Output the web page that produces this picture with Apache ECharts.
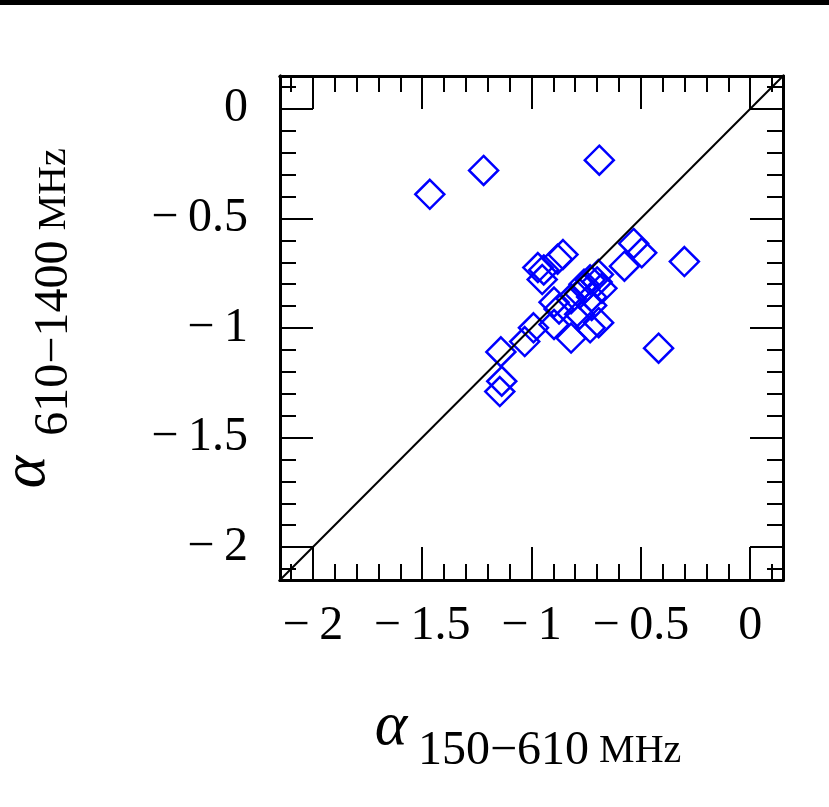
<!DOCTYPE html>
<html>
<head>
<meta charset="utf-8">
<script src="https://cdn.jsdelivr.net/npm/echarts@6/dist/echarts.min.js"></script>
<style>
  html, body { margin: 0; padding: 0; background: #fff; }
  #chart { width: 829px; height: 807px; }
</style>
</head>
<body>
<div id="chart"></div>
<script>
// spectral index 150-610 MHz (x) vs 610-1400 MHz (y)
const alphaLow = [
  -1.465, -1.219, -0.690, -0.301, -0.419,
  -0.533, -0.496, -0.575,
  -0.856, -0.881, -0.971, -0.944, -0.951,
  -0.694, -0.732, -0.678, -0.756, -0.780, -0.725, -0.819,
  -0.897, -0.874, -0.780, -0.725, -0.693, -0.732, -0.897,
  -0.819, -0.991, -1.031, -1.140, -1.136, -1.145, -0.700, -0.760
];
const alphaHigh = [
  -0.390, -0.281, -0.234, -0.697, -1.092,
  -0.614, -0.657, -0.718,
  -0.665, -0.686, -0.724, -0.735, -0.779,
  -0.756, -0.780, -0.819, -0.819, -0.843, -0.858, -0.866,
  -0.882, -0.913, -0.937, -0.897, -0.976, -0.999, -0.984,
  -1.046, -0.999, -1.062, -1.109, -1.243, -1.290, -0.790, -0.800
];
const axisRange = [-2.15, 0.15];
const majorTicks = [-2, -1.5, -1, -0.5, 0];
const minorTicks = [-2.1, -1.9, -1.8, -1.7, -1.6, -1.4, -1.3, -1.2, -1.1,
  -0.9, -0.8, -0.7, -0.6, -0.4, -0.3, -0.2, -0.1, 0.1];

const points = alphaLow.map((x, i) => [x, alphaHigh[i]]);
const fmt = v => v === 0 ? "0" : "\u2212\u2009" + Math.abs(v);
const labelFont = {
  fontFamily: "Liberation Serif",
  fontSize: 48,
  color: "#000"
};

function axis(pos, gridIndex, ticks, len, labels) {
  return {
    type: "value",
    gridIndex: gridIndex,
    position: pos,
    min: axisRange[0],
    max: axisRange[1],
    axisLine: { show: true, onZero: false, lineStyle: { color: "#000", width: 3 } },
    axisTick: {
      show: true,
      inside: true,
      length: len,
      customValues: ticks,
      lineStyle: { color: "#000", width: 2 }
    },
    axisLabel: Object.assign({
      show: labels,
      customValues: majorTicks,
      formatter: fmt,
      margin: pos === "left" ? 32 : 22,
      padding: pos === "left" ? [10, 0, 0, 0] : 0
    }, labelFont),
    splitLine: { show: false }
  };
}

const chart = echarts.init(document.getElementById("chart"));
const gridBox = { left: 280, top: 76, width: 503, height: 504 };
const subRich = {
  d: { fontFamily: "Liberation Serif", fontSize: 48, color: "#000" },
  m: { fontFamily: "Liberation Serif", fontSize: 40, color: "#000" }
};

const option = {
  backgroundColor: "#fff",
  animation: false,
  grid: [Object.assign({}, gridBox), Object.assign({}, gridBox)],
  xAxis: [
    axis("bottom", 0, majorTicks, 33, true),
    axis("top", 0, majorTicks, 33, false),
    axis("bottom", 1, minorTicks, 16, false),
    axis("top", 1, minorTicks, 16, false)
  ],
  yAxis: [
    axis("left", 0, majorTicks, 33, true),
    axis("right", 0, majorTicks, 33, false),
    axis("left", 1, minorTicks, 16, false),
    axis("right", 1, minorTicks, 16, false)
  ],
  series: [{
    type: "line",
    xAxisIndex: 0,
    yAxisIndex: 0,
    data: [[axisRange[0], axisRange[0]], [axisRange[1], axisRange[1]]],
    symbol: "none",
    lineStyle: { color: "#000", width: 2 },
    silent: true
  }, {
    type: "scatter",
    xAxisIndex: 0,
    yAxisIndex: 0,
    symbol: "diamond",
    symbolSize: 29,
    itemStyle: {
      color: "rgba(0,0,0,0)",
      borderColor: "#0000ff",
      borderWidth: 2.5,
      opacity: 1
    },
    data: points
  }],
  graphic: [
    { type: "rect", shape: { x: 0, y: 0, width: 829, height: 5 }, style: { fill: "#000" } },
    {
      type: "text", x: 391, y: 728,
      style: { text: "α", font: 'italic 62px "Liberation Serif"', fill: "#000", align: "center", verticalAlign: "middle" }
    },
    {
      type: "text", x: 418, y: 751,
      style: {
        text: "{d|150\u2212610}{m|\u00a0MHz}",
        align: "left", verticalAlign: "middle",
        rich: subRich
      }
    },
    {
      type: "text", x: 28, y: 472, rotation: Math.PI / 2,
      style: { text: "α", font: 'italic 62px "Liberation Serif"', fill: "#000", align: "center", verticalAlign: "middle" }
    },
    {
      type: "text", x: 54, y: 292, rotation: Math.PI / 2,
      style: {
        text: "{d|610\u22121400}{m|\u00a0MHz}",
        align: "center", verticalAlign: "middle",
        rich: subRich
      }
    }
  ]
};
// draw
chart.setOption(option);
</script>
</body>
</html>
